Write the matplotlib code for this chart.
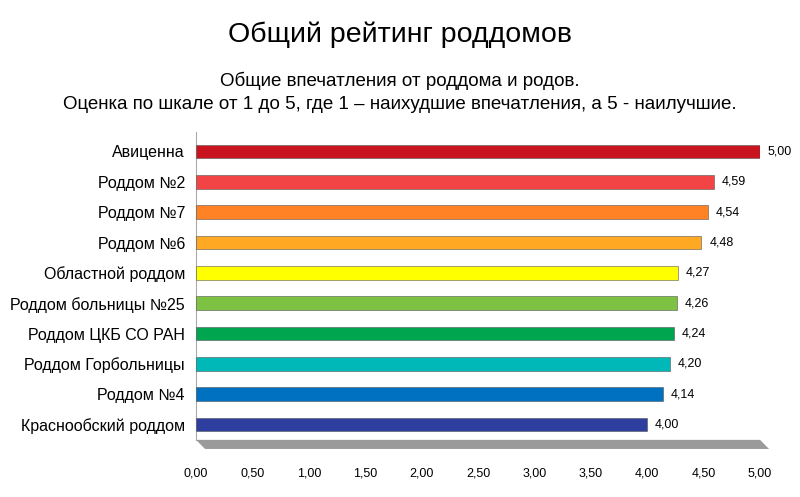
import matplotlib
matplotlib.use("Agg")
import matplotlib.pyplot as plt
from matplotlib.patches import Polygon

plt.rcParams["font.family"] = "Liberation Sans"

categories = ["Авиценна", "Роддом №2", "Роддом №7", "Роддом №6", "Областной роддом",
              "Роддом больницы №25", "Роддом ЦКБ СО РАН", "Роддом Горбольницы",
              "Роддом №4", "Краснообский роддом"]
values = [5.00, 4.59, 4.54, 4.48, 4.27, 4.26, 4.24, 4.20, 4.14, 4.00]
colors = ["#C8141E", "#F24444", "#FF8224", "#FFA824", "#FFFF00", "#7DC242",
          "#00A550", "#00B8B8", "#0070C0", "#2E3E9E"]
xticks = [0, 0.5, 1, 1.5, 2, 2.5, 3, 3.5, 4, 4.5, 5]

fig = plt.figure(figsize=(8, 4.97), dpi=100)
ax = fig.add_axes([0.245, 0.115, 0.705, 0.62])
n = len(categories)
ys = list(range(n))[::-1]
for y, v, c in zip(ys, values, colors):
    ax.barh(y, v, height=0.45, color=c, edgecolor="#555555", linewidth=0.4, zorder=3)
    ax.barh(y - 0.12, v, height=0.1, left=0, color="black", alpha=0.25, zorder=2)
    ax.text(v + 0.07, y, f"{v:.2f}".replace(".", ","), va="center", ha="left", fontsize=9, zorder=4)
ax.set_xlim(0, 5)
ax.set_ylim(-0.5, n - 0.35)
ax.set_yticks(ys)
ax.set_yticklabels(categories, fontsize=11.5)
ax.set_xticks(xticks)
ax.set_xticklabels([f"{t:.2f}".replace(".", ",") for t in xticks], fontsize=9)
ax.tick_params(length=0, pad=8)
ax.tick_params(axis="x", pad=20)
for s in ["top", "right", "bottom"]:
    ax.spines[s].set_visible(False)
ax.spines["left"].set_color("#aaaaaa")
ax.add_patch(Polygon([(0, -0.5), (5, -0.5), (5.08, -0.8), (0.08, -0.8)], closed=True,
                     facecolor="#9a9a9a", edgecolor="none", clip_on=False, zorder=1))

fig.text(0.5, 0.93, "Общий рейтинг роддомов", ha="center", va="center", fontsize=20.5)
fig.text(0.5, 0.838, "Общие впечатления от роддома и родов.", ha="center", va="center", fontsize=13.5)
fig.text(0.5, 0.79, "Оценка по шкале от 1 до 5, где 1 – наихудшие впечатления, а 5 - наилучшие.",
         ha="center", va="center", fontsize=13.5)
fig.savefig("out.png", dpi=100)
